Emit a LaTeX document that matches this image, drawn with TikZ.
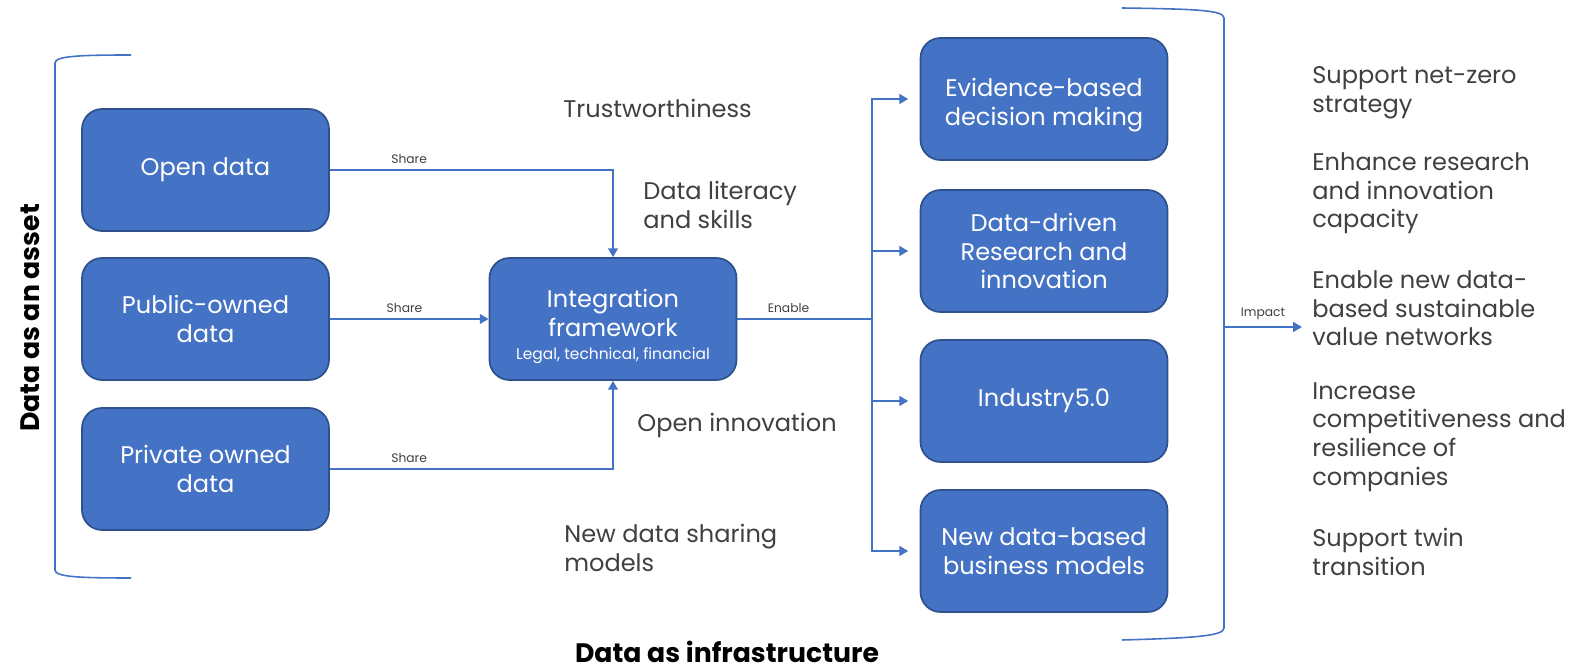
\documentclass[tikz,border=0pt]{standalone}
\usepackage{fontspec}
\setmainfont{Poppins}
\usetikzlibrary{arrows.meta,positioning}
\definecolor{boxblue}{HTML}{4472C4}
\definecolor{boxedge}{HTML}{2F528F}
\definecolor{inkgray}{HTML}{404040}
\tikzset{
	box/.style={draw=boxedge,line width=1pt,fill=boxblue,rounded corners=0.4cm,minimum width=4.94cm,minimum height=2.44cm,align=center,text=white,font=\fontsize{13.7}{16.4}\selectfont},
	link/.style={draw=boxblue,line width=1.1pt},
	-tri/.style={-{Triangle[width=5.5pt,length=5pt]}},
	tag/.style={font=\fontsize{7}{8}\selectfont,text=inkgray},
	note/.style={font=\fontsize{13.7}{16.3}\selectfont,text=inkgray,align=left,anchor=west,inner sep=0pt},
	title/.style={font=\fontsize{15.2}{17}\selectfont\bfseries,inner sep=0pt},
	brace/.style={draw=boxblue,line width=0.9pt}
}
\begin{document}
\begin{tikzpicture}[x=0.02cm,y=-0.02cm]
	\useasboundingbox (0,0) rectangle (1576,671);
	\node[box] (open) at (205.5,170) {Open data};
	\node[box] (public) at (205.5,319) {Public-owned\\data};
	\node[box] (private) at (205.5,469) {Private owned\\data};
	\node[box] (frame) at (613,319) {\rule{0pt}{19pt}Integration\\framework\\[-3pt]{\fontsize{8.8}{9}\selectfont Legal, technical, financial}};
	\node[box] (evidence) at (1044,99) {\rule{0pt}{17pt}Evidence-based\\decision making};
	\node[box] (driven) at (1044,251) {Data-driven\\Research and\\innovation};
	\node[box] (industry) at (1044,401) {Industry5.0};
	\node[box] (business) at (1044,551) {New data-based\\business models};
	\node[coordinate] (hub) at (872,319) {};
	\draw[link,-tri] (open.east) -| node[tag,above,pos=0.14] {Share} (frame.north);
	\draw[link,-tri] (public.east) -- node[tag,above,pos=0.47] {Share} (frame.west);
	\draw[link,-tri] (private.east) -| node[tag,above,pos=0.14] {Share} (frame.south);
	\draw[link] (frame.east) -- node[tag,above,pos=0.38] {Enable} (hub);
	\foreach \out in {evidence,driven,industry,business}
		\draw[link,-tri,shorten >=6.5pt] (hub) |- (\out.west);
	\node[note] (trust) at (563,108) {Trustworthiness};
	\node[note] (skills) at (643,205) {Data literacy\\and skills};
	\node[note] (openinno) at (637,425) {Open innovation};
	\node[note] (sharing) at (564,548) {New data sharing\\models};
	\node[note] (goal1) at (1312,92.5) {Support net-zero\\strategy};
	\node[note] (goal2) at (1312,193.5) {Enhance research\\and innovation\\capacity};
	\node[note] (goal3) at (1312,308.5) {Enable new data-\\based sustainable\\value networks};
	\node[note] (goal4) at (1312,437) {Increase\\competitiveness and\\resilience of\\companies};
	\node[note] (goal5) at (1312,552) {Support twin\\transition};
	\node[title,rotate=90] (asset) at (30,318) {Data as an asset};
	\node[title] (infra) at (727,652) {Data as infrastructure};
	\draw[brace] (131,55) .. controls (80,55) and (55,56) .. (55,63) -- (55,570) .. controls (55,577) and (80,578) .. (131,578);
	\draw[brace] (1122,8) .. controls (1194,9) and (1224,10) .. (1224,18) -- (1224,628) .. controls (1224,636) and (1194,638) .. (1122,640);
	\node[coordinate] (rb) at (1224,327) {};
	\node[coordinate] (impact) at (1302,327) {};
	\draw[link,-tri] (rb) -- node[tag,above] {Impact} (impact);
\end{tikzpicture}
\end{document}
